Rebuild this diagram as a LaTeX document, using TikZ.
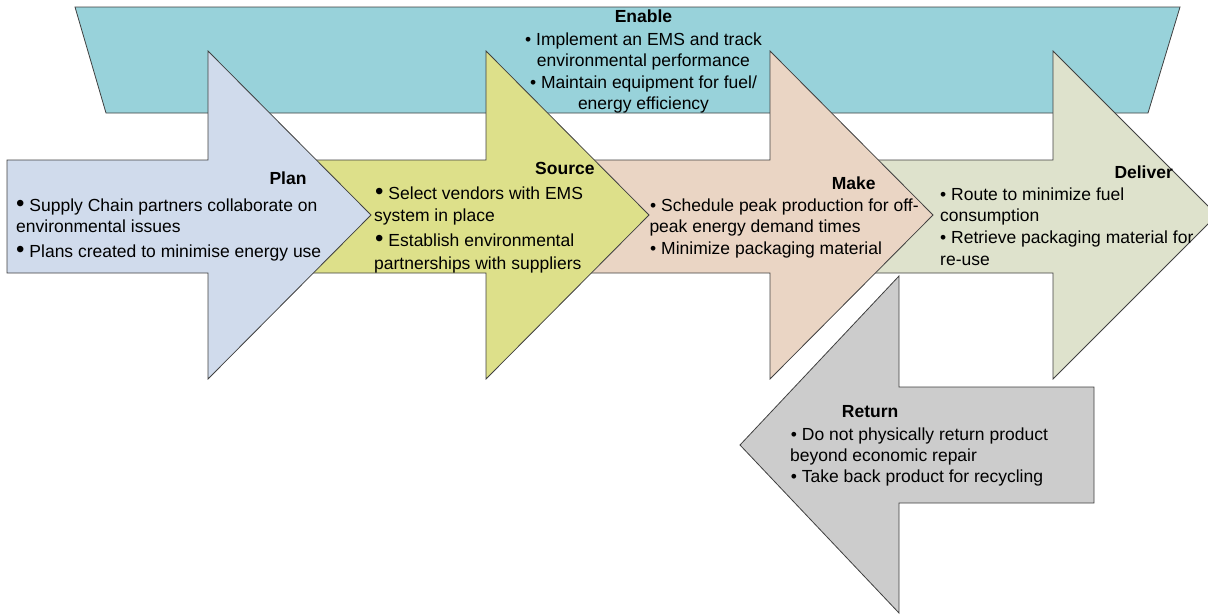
\documentclass[tikz,border=0pt]{standalone}
\usepackage{fontspec}
\setmainfont{Liberation Sans}
\definecolor{cEnable}{HTML}{98D2DA}
\definecolor{cPlan}{HTML}{D0DBEC}
\definecolor{cSource}{HTML}{DDE08A}
\definecolor{cMake}{HTML}{EAD5C4}
\definecolor{cDeliver}{HTML}{DEE2CC}
\definecolor{cReturn}{HTML}{CCCCCC}
\definecolor{cLine}{HTML}{404040}
\newcommand{\bigbul}{{\fontsize{24}{21}\selectfont\textbullet}\ }
\tikzset{
  shp/.style={draw=cLine, line width=0.8pt, line join=miter},
  txt/.style={anchor=base west, inner sep=0pt, font=\fontsize{17.5}{21}\selectfont},
  ttl/.style={txt, font=\fontsize{17.5}{21}\selectfont\bfseries},
  ctxt/.style={txt, anchor=base},
  cttl/.style={ttl, anchor=base}
}
\begin{document}
\begin{tikzpicture}[x=1pt,y=-1pt]
\useasboundingbox (0,0) rectangle (1208,614);
% Enable
\filldraw[shp, fill=cEnable] (75,7) -- (1180,7) -- (1148,113) -- (106,113) -- cycle;
% Deliver
\filldraw[shp, fill=cDeliver] (860,160) -- (1053,160) -- (1053,51) -- (1217,215) -- (1053,379) -- (1053,273) -- (860,273) -- cycle;
% Make
\filldraw[shp, fill=cMake] (580,160) -- (770,160) -- (770,51) -- (933,215) -- (770,379) -- (770,273) -- (580,273) -- cycle;
% Source
\filldraw[shp, fill=cSource] (300,160) -- (486,160) -- (486,51) -- (649,215) -- (486,379) -- (486,273) -- (300,273) -- cycle;
% Plan
\filldraw[shp, fill=cPlan] (7,160) -- (208,160) -- (208,51) -- (371,215) -- (208,379) -- (208,273) -- (7,273) -- cycle;
% Return
\filldraw[shp, fill=cReturn] (740,445) -- (899,276) -- (899,387) -- (1094,387) -- (1094,503) -- (899,503) -- (899,613) -- cycle;

% Enable text
\node[cttl] (en0) at (643.5,22.7) {Enable};
\node[ctxt] (en1) at (643.5,45) {\textbullet\ Implement an EMS and track};
\node[ctxt] (en2) at (643.5,66) {environmental performance};
\node[ctxt] (en3) at (643.5,88.3) {\textbullet\ Maintain equipment for fuel/};
\node[ctxt] (en4) at (643.5,109.3) {energy efficiency};

% Plan text
\node[ttl] (pl0) at (269.3,184) {Plan};
\node[txt] (pl1) at (16,211) {\bigbul Supply Chain partners collaborate on};
\node[txt] (pl2) at (16,232.3) {environmental issues};
\node[txt] (pl3) at (16,257.7) {\bigbul Plans created to minimise energy use};

% Source text
\node[ttl] (so0) at (535,174) {Source};
\node[txt] (so1) at (375,199) {\bigbul Select vendors with EMS};
\node[txt] (so2) at (374,221.7) {system in place};
\node[txt] (so3) at (375,246.7) {\bigbul Establish environmental};
\node[txt] (so4) at (374,269.3) {partnerships with suppliers};

% Make text
\node[ttl] (ma0) at (831.7,189.3) {Make};
\node[txt] (ma1) at (650,211.7) {\textbullet\ Schedule peak production for off-};
\node[txt] (ma2) at (649.3,232.7) {peak energy demand times};
\node[txt] (ma3) at (650,254) {\textbullet\ Minimize packaging material};

% Deliver text
\node[ttl] (de0) at (1114.3,178.3) {Deliver};
\node[txt] (de1) at (940,200) {\textbullet\ Route to minimize fuel};
\node[txt] (de2) at (940,221.7) {consumption};
\node[txt] (de3) at (940,243.3) {\textbullet\ Retrieve packaging material for};
\node[txt] (de4) at (940,265) {re-use};

% Return text
\node[ttl] (re0) at (841.7,417.7) {Return};
\node[txt] (re1) at (790.7,440) {\textbullet\ Do not physically return product};
\node[txt] (re2) at (790,461) {beyond economic repair};
\node[txt] (re3) at (790.7,482.7) {\textbullet\ Take back product for recycling};
\end{tikzpicture}
\end{document}
